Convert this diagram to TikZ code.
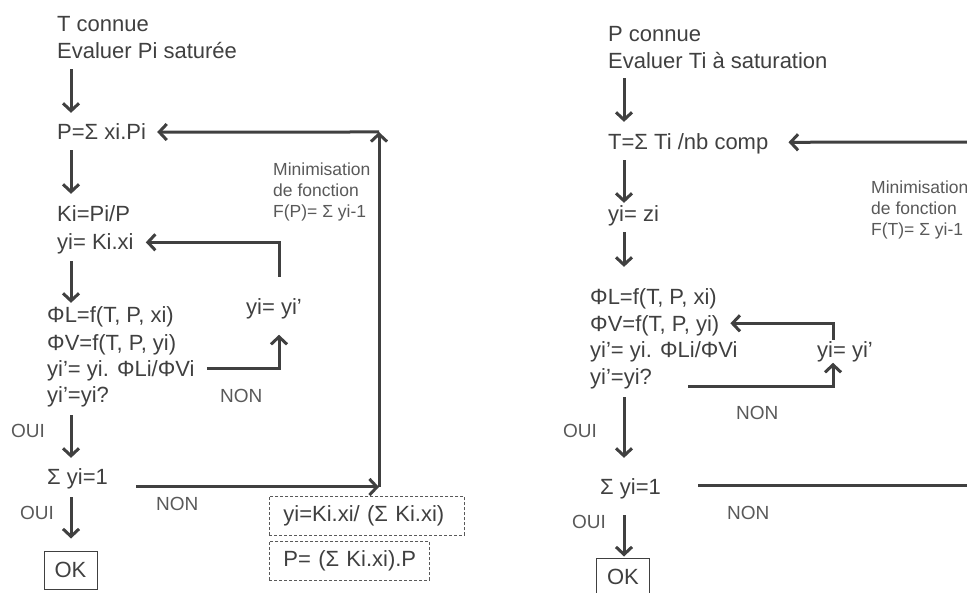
\documentclass[tikz,border=0pt]{standalone}
\usepackage{fontspec}
\setmainfont{Liberation Sans}
\usetikzlibrary{arrows.meta}
\definecolor{ink}{HTML}{404040}
\definecolor{soft}{HTML}{595959}

\begin{document}
\begin{tikzpicture}[x=1pt,y=-1pt,
		txt/.style={anchor=base west,inner sep=0pt,text=ink,font=\fontsize{22}{26}\selectfont},
		tag/.style={txt,text=soft,font=\fontsize{19}{23}\selectfont},
		memo/.style={anchor=north west,inner sep=0pt,align=left,text=soft,font=\fontsize{17.5}{21}\selectfont},
		arr/.style={draw=ink,line width=3pt,-{Straight Barb[length=7.5pt,width=16pt]}},
		okbox/.style={draw=ink,line width=1pt,minimum width=53pt,minimum height=38pt,inner sep=0pt,text=ink,font=\fontsize{22}{26}\selectfont},
		dbox/.style={draw=soft,line width=0.8pt,dash pattern=on 3pt off 2pt,anchor=north west,minimum height=39pt,inner sep=0pt,align=left,text=ink,font=\fontsize{22}{26}\selectfont}]
	\useasboundingbox (0,0) rectangle (967,593);
	\clip (0,0) rectangle (967,593);

	\coordinate (colL) at (71,0);
	\coordinate (colR) at (624,0);

	\node[txt] (tL1) at (57,32) {T connue};
	\node[txt] (tL2) at (57,59) {Evaluer Pi saturée};
	\node[txt] (pL) at (57,140) {P=Σ xi.Pi};
	\node[txt] (kL1) at (57,222) {Ki=Pi/P};
	\node[txt] (kL2) at (57,250) {yi= Ki.xi};
	\node[txt] (phL1) at (47,323) {ΦL=f(T, P, xi)};
	\node[txt] (phL2) at (47,351) {ΦV=f(T, P, yi)};
	\node[txt] (phL3) at (47,377) {yi’= yi. ΦLi/ΦVi};
	\node[txt] (phL4) at (47,403) {yi’=yi?};
	\node[txt] (yyL) at (246,315) {yi= yi’};
	\node[memo] (minL) at (273,163) {Minimisation\\de fonction\\F(P)= Σ yi-1};
	\node[tag] (nonL1) at (220,403) {NON};
	\node[tag] (ouiL1) at (11,438) {OUI};
	\node[txt] (sL) at (47,485) {Σ yi=1};
	\node[tag] (nonL2) at (156,511) {NON};
	\node[tag] (ouiL2) at (20,519) {OUI};
	\node[okbox] (okL) at (70.5,570) {OK};
	\node[dbox,text width=195pt] (upY) at (269,496) {\hspace*{14pt}yi=Ki.xi/ (Σ Ki.xi)};
	\node[dbox,text width=160pt] (upP) at (269,541) {\hspace*{14pt}P= (Σ Ki.xi).P};

	\draw[arr,shorten <=10pt,shorten >=11pt] (tL2.south -| colL) -- (pL.north -| colL);
	\draw[arr,shorten <=10pt,shorten >=12pt] (pL.south -| colL) -- (kL1.north -| colL);
	\draw[arr,shorten <=6.5pt,shorten >=4pt] (kL2.south -| colL) -- (phL1.north -| colL);
	\draw[arr,shorten <=7.5pt,shorten >=11pt] (phL4.south -| colL) -- (sL.north -| colL);
	\draw[arr,shorten <=7.5pt,shorten >=12pt] (sL.south -| colL) -- (okL.north -| colL);

	\draw[arr] ([xshift=12pt,yshift=8pt]phL3.base east) -| ([xshift=5pt,yshift=-15pt]yyL.south);
	\draw[arr,shorten >=12pt] ([xshift=5pt,yshift=22pt]yyL.north) |- ([yshift=2pt]kL2.east);

	\coordinate (loopL) at (379,487);
	\coordinate (turnL) at (379,132);
	\draw[arr] ([xshift=28pt,yshift=-2pt]sL.base east) -- (loopL);
	\draw[arr] (loopL) -- (turnL);
	\draw[arr,shorten >=11pt] (turnL) -- (pL.east);

	\node[txt] (tR1) at (608,42) {P connue};
	\node[txt] (tR2) at (608,69) {Evaluer Ti à saturation};
	\node[txt] (tsR) at (608,150) {T=Σ Ti /nb comp};
	\node[txt] (yzR) at (608,222) {yi= zi};
	\node[txt] (phR1) at (590,305) {ΦL=f(T, P, xi)};
	\node[txt] (phR2) at (590,332) {ΦV=f(T, P, yi)};
	\node[txt] (phR3) at (590,358) {yi’= yi. ΦLi/ΦVi};
	\node[txt] (phR4) at (590,385) {yi’=yi?};
	\node[txt] (yyR) at (817,358) {yi= yi’};
	\node[memo] (minR) at (871,181) {Minimisation\\de fonction\\F(T)= Σ yi-1};
	\node[tag] (nonR1) at (736,420) {NON};
	\node[tag] (ouiR1) at (563,438) {OUI};
	\node[txt] (sR) at (600,494) {Σ yi=1};
	\node[tag] (nonR2) at (727,519) {NON};
	\node[tag] (ouiR2) at (572,529) {OUI};
	\node[okbox] (okR) at (623,577) {OK};

	\draw[arr,shorten <=9pt,shorten >=12pt] (tR2.south -| colR) -- (tsR.north -| colR);
	\draw[arr,shorten <=5.5pt,shorten >=3pt] (tsR.south -| colR) -- (yzR.north -| colR);
	\draw[arr,shorten <=5.5pt,shorten >=22pt] (yzR.south -| colR) -- (phR1.north -| colR);
	\draw[arr,shorten <=7.5pt,shorten >=20pt] (phR4.south -| colR) -- (sR.north -| colR);
	\draw[arr,shorten <=16.5pt,shorten >=1pt] (sR.south -| colR) -- (okR.north -| colR);

	\draw[arr] ([xshift=36pt,yshift=-2pt]phR4.base east) -| ([xshift=-12pt]yyR.south);
	\draw[arr,shorten >=11pt] ([xshift=-12pt,yshift=2pt]yyR.north) |- ([yshift=3pt]phR2.east);

	\coordinate (loopR) at (990,486);
	\coordinate (turnR) at (990,142);
	\draw[arr] ([xshift=37pt,yshift=8pt]sR.base east) -- (loopR);
	\draw[arr] (loopR) -- (turnR);
	\draw[arr,shorten >=20pt] (turnR) -- ([yshift=2pt]tsR.east);
\end{tikzpicture}
\end{document}
